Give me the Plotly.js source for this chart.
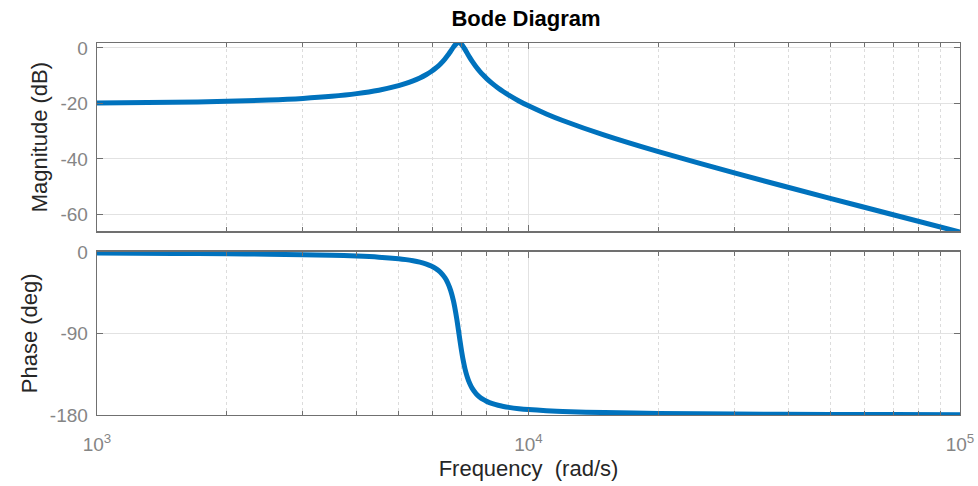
<!DOCTYPE html>
<html>
<head>
<meta charset="utf-8">
<script src="https://cdn.plot.ly/plotly-3.0.1.min.js"></script>
<style>html,body{margin:0;padding:0;background:#fff;}#chart{width:978px;height:486px;}</style>
</head>
<body>
<div id="chart"></div>
<script>
// Frequency samples (rad/s)
const freq = [1000, 1500, 2000, 2500, 3000, 3500, 4000, 4500, 5000, 5200, 5400, 5600, 5800, 5950, 6100, 6175, 6250, 6400, 6500, 6600, 6700, 6750, 6825, 6900, 6975, 7050, 7125, 7200, 7300, 7400, 7550, 7625, 7700, 7850, 8000, 8250, 8500, 8750, 9000, 9500, 10000, 11000, 12000, 15000, 20000, 30000, 50000, 70000, 100000];
// Magnitude (dB)
const magnitude = [-19.82, -19.58, -19.24, -18.78, -18.19, -17.43, -16.46, -15.22, -13.60, -12.79, -11.88, -10.82, -9.57, -8.48, -7.22, -6.51, -5.74, -3.98, -2.64, -1.17, 0.32, 0.98, 1.72, 1.94, 1.54, 0.65, -0.50, -1.72, -3.30, -4.76, -6.68, -7.54, -8.34, -9.77, -11.04, -12.87, -14.43, -15.80, -17.01, -19.11, -20.88, -23.79, -26.15, -31.43, -37.39, -45.06, -54.24, -60.17, -66.41];
// Phase (deg)
const phase = [-0.68, -1.05, -1.45, -1.91, -2.46, -3.13, -4.00, -5.19, -6.96, -7.94, -9.18, -10.77, -12.91, -15.06, -17.94, -19.78, -22.0, -27.98, -33.80, -41.97, -53.67, -61.21, -74.72, -90.0, -105.12, -118.27, -128.74, -136.78, -144.64, -150.26, -156.07, -158.21, -160.0, -162.82, -164.92, -167.45, -169.22, -170.53, -171.54, -172.99, -173.99, -175.27, -176.07, -177.33, -178.21, -178.89, -179.36, -179.54, -179.68];

const xTickVals = [1000, 10000, 100000];
const xTickText = ['10<sup>3</sup>', '10<sup>4</sup>', '10<sup>5</sup>'];
const magTicks = [0, -20, -40, -60];
const magTickText = ['0', '-20', '-40', '-60'];
const phaseTicks = [0, -90, -180];
const phaseTickText = ['0', '-90', '-180'];

const lineColor = '#0072BD';
const axisCol = '#707070';
const fam = 'Liberation Sans, Arial, Helvetica, sans-serif';
const tickFont = {family: fam, size: 19, color: '#858585'};
const titleFont = {family: fam, size: 22, color: '#262626'};

const traces = [
  {x: freq, y: magnitude, xaxis: 'x2', yaxis: 'y2', mode: 'lines', line: {color: lineColor, width: 5, shape: 'spline', smoothing: 0.8}, hoverinfo: 'skip'},
  {x: freq, y: phase, xaxis: 'x', yaxis: 'y', mode: 'lines', line: {color: lineColor, width: 5, shape: 'spline', smoothing: 0.8}, hoverinfo: 'skip'}
];

const commonX = {
  type: 'log', range: [3, 5], tickvals: xTickVals, ticktext: xTickText,
  ticks: 'inside', ticklen: 6, tickcolor: axisCol, showline: true, linecolor: axisCol, linewidth: 1.3, mirror: 'ticks',
  showgrid: true, gridcolor: '#e2e2e2', gridwidth: 1, zeroline: false,
  minor: {dtick: 'D1', ticks: 'inside', ticklen: 4, tickcolor: axisCol, showgrid: true, gridcolor: '#dcdcdc', griddash: 'dot', gridwidth: 1},
  tickfont: tickFont
};

const yCommon = {
  ticks: 'inside', ticklen: 6, tickcolor: axisCol,
  showline: true, linecolor: axisCol, linewidth: 1.3, mirror: 'ticks', showgrid: true, gridcolor: '#e2e2e2', zeroline: false,
  tickfont: tickFont, ticklabelstandoff: 4
};

const layout = {
  width: 978, height: 486,
  margin: {l: 97, r: 18, t: 43, b: 71},
  paper_bgcolor: '#ffffff', plot_bgcolor: '#ffffff',
  showlegend: false,
  title: {text: '<b>Bode Diagram</b>', x: 526 / 978, xanchor: 'center', y: 1 - 18 / 486, yanchor: 'middle', font: {family: fam, size: 22, color: '#000000'}},
  xaxis: Object.assign({}, commonX, {anchor: 'y', ticklabelstandoff: 12, title: {text: 'Frequency  (rad/s)', font: titleFont, standoff: 6}}),
  xaxis2: Object.assign({}, commonX, {anchor: 'y2', matches: 'x', showticklabels: false}),
  yaxis: Object.assign({}, yCommon, {
    domain: [0, 0.4394], range: [-180, 1], tickvals: phaseTicks, ticktext: phaseTickText,
    title: {text: 'Phase (deg)', font: titleFont, standoff: 6}
  }),
  yaxis2: Object.assign({}, yCommon, {
    domain: [0.494, 1], range: [-66.1, 1.8], tickvals: magTicks, ticktext: magTickText,
    title: {text: 'Magnitude (dB)', font: titleFont, standoff: 6}
  })
};

Plotly.newPlot('chart', traces, layout, {displayModeBar: false, staticPlot: true});
</script>
</body>
</html>
